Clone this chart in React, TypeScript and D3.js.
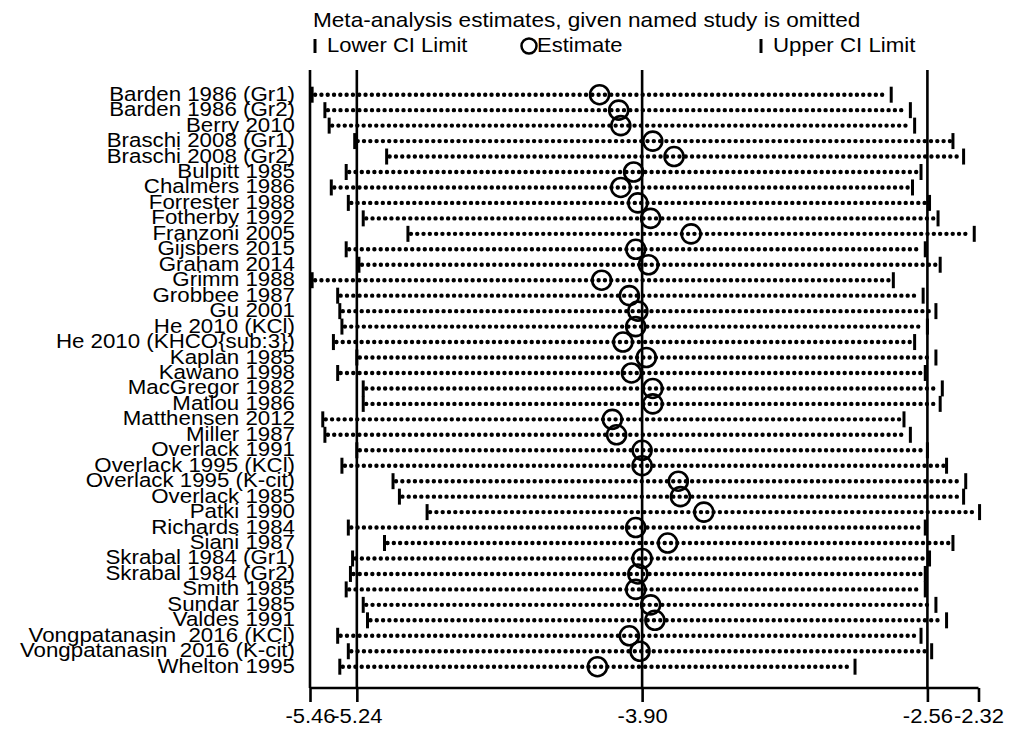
import React, { useRef, useEffect } from 'react';
import * as d3 from 'd3';

const studies = [
  'Barden 1986 (Gr1)', 'Barden 1986 (Gr2)', 'Berry 2010', 'Braschi 2008 (Gr1)', 'Braschi 2008 (Gr2)',
  'Bulpitt 1985', 'Chalmers 1986', 'Forrester 1988', 'Fotherby 1992', 'Franzoni 2005',
  'Gijsbers 2015', 'Graham 2014', 'Grimm 1988', 'Grobbee 1987', 'Gu 2001',
  'He 2010 (KCl)', 'He 2010 (KHCO{sub:3})', 'Kaplan 1985', 'Kawano 1998', 'MacGregor 1982',
  'Matlou 1986', 'Matthensen 2012', 'Miller 1987', 'Overlack 1991', 'Overlack 1995 (KCl)',
  'Overlack 1995 (K-cit)', 'Overlack 1985', 'Patki 1990', 'Richards 1984', 'Siani 1987',
  'Skrabal 1984 (Gr1)', 'Skrabal 1984 (Gr2)', 'Smith 1985', 'Sundar 1985', 'Valdes 1991',
  'Vongpatanasin  2016 (KCl)', 'Vongpatanasin  2016 (K-cit)', 'Whelton 1995',
];

const lower = [
  -5.45, -5.39, -5.37, -5.25, -5.10, -5.29, -5.36, -5.28, -5.21, -5.00,
  -5.29, -5.23, -5.45, -5.33, -5.32, -5.31, -5.35, -5.24, -5.33, -5.21,
  -5.21, -5.40, -5.39, -5.24, -5.31, -5.07, -5.04, -4.91, -5.28, -5.11,
  -5.26, -5.27, -5.29, -5.21, -5.19, -5.33, -5.28, -5.32,
];

const estimate = [
  -4.10, -4.01, -4.00, -3.85, -3.75, -3.94, -4.00, -3.92, -3.86, -3.67,
  -3.93, -3.87, -4.09, -3.96, -3.92, -3.93, -3.99, -3.88, -3.95, -3.85,
  -3.85, -4.04, -4.02, -3.90, -3.90, -3.73, -3.72, -3.61, -3.93, -3.78,
  -3.90, -3.92, -3.93, -3.86, -3.84, -3.96, -3.91, -4.11,
];

const upper = [
  -2.73, -2.64, -2.62, -2.44, -2.39, -2.59, -2.63, -2.55, -2.51, -2.34,
  -2.57, -2.50, -2.72, -2.58, -2.52, -2.56, -2.62, -2.52, -2.57, -2.49,
  -2.50, -2.67, -2.64, -2.56, -2.47, -2.38, -2.39, -2.315, -2.57, -2.44,
  -2.55, -2.57, -2.57, -2.52, -2.47, -2.59, -2.54, -2.90,
];

const refLines = [-5.46, -5.24, -3.90, -2.56];
const tickValues = [-5.46, -5.24, -3.90, -2.56, -2.32];

const FONT = '"Liberation Sans", Arial, Helvetica, sans-serif';

function MetaninfPlot() {
  const ref = useRef<SVGSVGElement>(null);

  useEffect(() => {
    const node = ref.current;
    if (!node) return;
    node.querySelectorAll('*').forEach(n => n.remove());
    const svg = d3.select(node);

    const top = 70;
    const axisY = 688;

    const x = d3.scaleLinear().domain([-5.46, -2.32]).range([310, 978.5]);
    const y = d3
      .scalePoint<string>()
      .domain(studies)
      .range([94.7, 666.7]);

    // title + legend
    svg.append('text')
      .attr('transform', 'translate(313,27) scale(1,0.9)')
      .attr('font-family', FONT).attr('font-size', 22.6)
      .text('Meta-analysis estimates, given named study is omitted');

    const legend = svg.append('g');
    legend.append('line').attr('x1', 315).attr('x2', 315).attr('y1', 39).attr('y2', 53)
      .attr('stroke', '#000').attr('stroke-width', 3);
    legend.append('text').attr('transform', 'translate(327,52) scale(1,0.9)')
      .attr('font-family', FONT).attr('font-size', 22).text('Lower CI Limit');
    legend.append('circle').attr('cx', 529).attr('cy', 46).attr('r', 7.5)
      .attr('fill', 'none').attr('stroke', '#000').attr('stroke-width', 2.5);
    legend.append('text').attr('transform', 'translate(537,52) scale(1,0.9)')
      .attr('font-family', FONT).attr('font-size', 22).text('Estimate');
    legend.append('line').attr('x1', 761).attr('x2', 761).attr('y1', 39).attr('y2', 53)
      .attr('stroke', '#000').attr('stroke-width', 3);
    legend.append('text').attr('transform', 'translate(773,52) scale(1,0.9)')
      .attr('font-family', FONT).attr('font-size', 22.3).text('Upper CI Limit');

    // reference lines
    svg.append('g')
      .selectAll('line')
      .data(refLines)
      .join('line')
      .attr('x1', d => x(d)).attr('x2', d => x(d))
      .attr('y1', top).attr('y2', axisY)
      .attr('stroke', '#000').attr('stroke-width', 2.6);

    // x axis
    const xAxis = d3.axisBottom(x).tickValues(tickValues).tickSize(14).tickPadding(6)
      .tickFormat(d => (d as number).toFixed(2));
    const gx = svg.append('g').attr('transform', `translate(0,${axisY})`).call(xAxis);
    gx.select('.domain').attr('stroke', '#000').attr('stroke-width', 2.6)
      .attr('d', `M${x(-5.46)},0H${x(-2.32)}`);
    gx.selectAll('.tick line').attr('stroke', '#000').attr('stroke-width', 2.6);
    gx.selectAll('.tick text')
      .attr('font-family', FONT).attr('font-size', 22).attr('fill', '#000')
      .attr('dy', null).attr('y', null)
      .attr('transform', 'translate(0,35) scale(1,0.94)');

    // study labels
    svg.append('g')
      .selectAll('text')
      .data(studies)
      .join('text')
      .attr('transform', d => `translate(295,${(y(d) as number) + 6}) scale(1,0.9)`)
      .attr('text-anchor', 'end')
      .attr('font-family', FONT).attr('font-size', 22.3)
      .style('white-space', 'pre')
      .text(d => d);

    // dotted CI lines
    const rows = svg.append('g');
    rows.selectAll('line.ci')
      .data(studies)
      .join('line')
      .attr('class', 'ci')
      .attr('x1', (d, i) => x(lower[i]) + 3)
      .attr('x2', (d, i) => x(upper[i]) - 3)
      .attr('y1', d => y(d) as number)
      .attr('y2', d => y(d) as number)
      .attr('stroke', '#000').attr('stroke-width', 4.4)
      .attr('stroke-linecap', 'round')
      .attr('stroke-dasharray', '0 6.3');

    // caps
    rows.selectAll('line.lo')
      .data(studies)
      .join('line')
      .attr('class', 'lo')
      .attr('x1', (d, i) => x(lower[i])).attr('x2', (d, i) => x(lower[i]))
      .attr('y1', d => (y(d) as number) - 8).attr('y2', d => (y(d) as number) + 8)
      .attr('stroke', '#000').attr('stroke-width', 3);
    rows.selectAll('line.hi')
      .data(studies)
      .join('line')
      .attr('class', 'hi')
      .attr('x1', (d, i) => x(upper[i])).attr('x2', (d, i) => x(upper[i]))
      .attr('y1', d => (y(d) as number) - 8).attr('y2', d => (y(d) as number) + 8)
      .attr('stroke', '#000').attr('stroke-width', 3);

    // estimates
    rows.selectAll('circle')
      .data(studies)
      .join('circle')
      .attr('cx', (d, i) => x(estimate[i]))
      .attr('cy', d => y(d) as number)
      .attr('r', 9.5)
      .attr('fill', 'none').attr('stroke', '#000').attr('stroke-width', 2.6);
  }, []);

  return (
    <svg
      ref={ref}
      width={1012}
      height={731}
      style={{ position: 'absolute', left: 0, top: 0, background: '#fff' }}
    />
  );
}

export default function App() {
  return <MetaninfPlot />;
}
